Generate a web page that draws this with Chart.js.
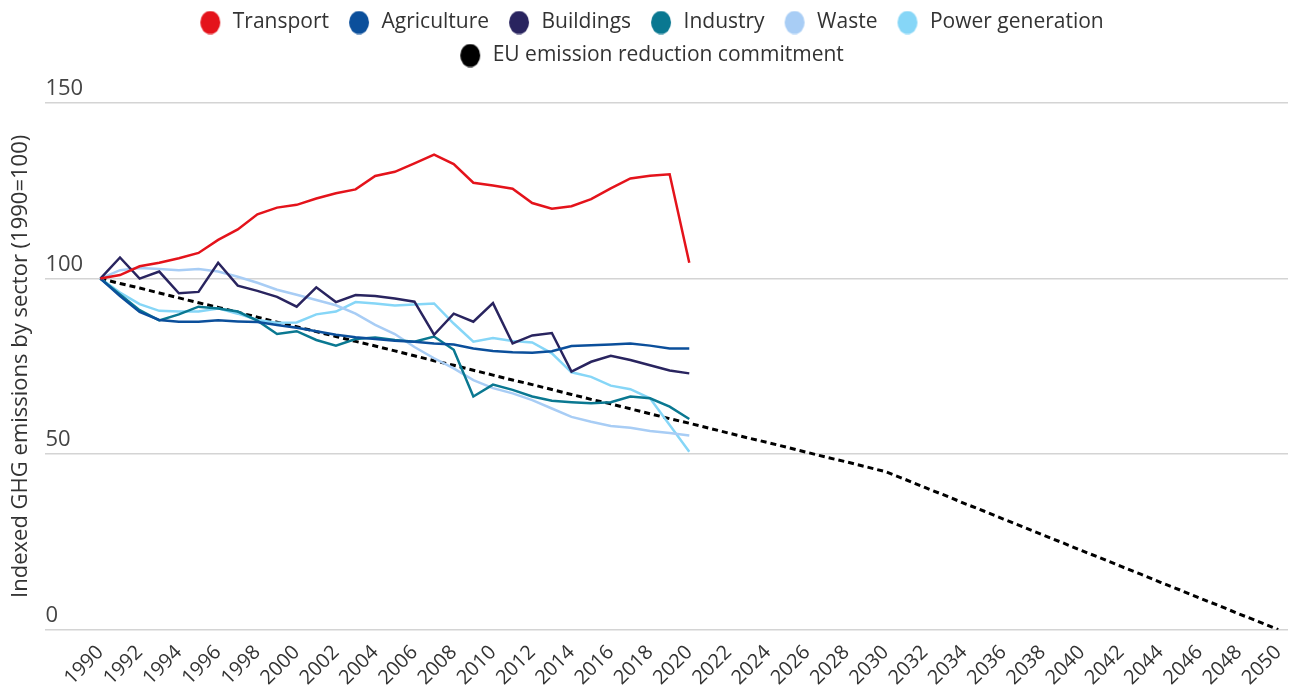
<!DOCTYPE html>
<html>
<head>
<meta charset="utf-8">
<script src="https://cdn.jsdelivr.net/npm/chart.js@4"></script>
<style>
  html, body { margin: 0; padding: 0; background: #fff; }
  #wrap { width: 1304px; height: 693px; }
</style>
</head>
<body>
<div id="wrap"><canvas id="emissions"></canvas></div>
<script>
const sectorYears = [1990, 1991, 1992, 1993, 1994, 1995, 1996, 1997, 1998, 1999, 2000, 2001, 2002, 2003, 2004, 2005, 2006, 2007, 2008, 2009, 2010, 2011, 2012, 2013, 2014, 2015, 2016, 2017, 2018, 2019, 2020]
const targetYears = [1990, 1991, 1992, 1993, 1994, 1995, 1996, 1997, 1998, 1999, 2000, 2001, 2002, 2003, 2004, 2005, 2006, 2007, 2008, 2009, 2010, 2011, 2012, 2013, 2014, 2015, 2016, 2017, 2018, 2019, 2020, 2021, 2022, 2023, 2024, 2025, 2026, 2027, 2028, 2029, 2030, 2031, 2032, 2033, 2034, 2035, 2036, 2037, 2038, 2039, 2040, 2041, 2042, 2043, 2044, 2045, 2046, 2047, 2048, 2049, 2050]
const xTickYears = [1990, 1992, 1994, 1996, 1998, 2000, 2002, 2004, 2006, 2008, 2010, 2012, 2014, 2016, 2018, 2020, 2022, 2024, 2026, 2028, 2030, 2032, 2034, 2036, 2038, 2040, 2042, 2044, 2046, 2048, 2050]

const transport = [100, 101, 103.5, 104.5, 105.8, 107.3, 111, 114, 118.3, 120.2, 121, 122.8, 124.3, 125.4, 129.2, 130.4, 132.8, 135.3, 132.6, 127.3, 126.5, 125.6, 121.5, 119.9, 120.6, 122.6, 125.7, 128.5, 129.3, 129.7, 104.5]
const agriculture = [100, 95, 90.5, 88.2, 87.7, 87.7, 88.1, 87.8, 87.6, 86.8, 86, 85, 84, 83.3, 82.8, 82.3, 82, 81.5, 81.2, 80.1, 79.4, 79, 78.9, 79.3, 80.8, 81, 81.2, 81.5, 80.9, 80.1, 80.1]
const buildings = [100, 106, 100, 102, 95.8, 96.2, 104.5, 98, 96.5, 94.8, 92, 97.5, 93.3, 95.3, 95, 94.3, 93.4, 84, 90, 87.7, 93, 81.5, 83.8, 84.5, 73.5, 76.3, 78, 76.8, 75.3, 73.8, 73]
const industry = [100, 95.5, 91, 88.1, 89.8, 92, 91.5, 90.6, 88, 84.2, 85, 82.5, 80.9, 82.8, 83.2, 82.5, 82, 83.5, 79.7, 66.4, 69.8, 68.3, 66.4, 65.2, 64.8, 64.5, 64.8, 66.4, 65.9, 63.5, 60]
const waste = [100, 102.4, 103, 102.7, 102.4, 102.7, 102, 100.5, 98.8, 96.8, 95.4, 93.9, 92.4, 90, 86.8, 84.2, 80.5, 77.3, 74.4, 71.1, 68.8, 67.3, 65.4, 63, 60.6, 59.2, 58, 57.5, 56.6, 56, 55.3]
const powerGeneration = [100, 96, 92.7, 90.8, 90.6, 90.6, 91.5, 90, 88.2, 87.4, 87.5, 89.8, 90.6, 93.3, 92.9, 92.3, 92.6, 92.9, 87.2, 82, 83.1, 82.2, 81.8, 78.7, 73.3, 72, 69.5, 68.5, 65.9, 58.3, 50.7]
const euCommitment = [100, 98.6, 97.3, 95.9, 94.5, 93.1, 91.8, 90.4, 89, 87.6, 86.3, 84.9, 83.5, 82.1, 80.8, 79.4, 78, 76.6, 75.3, 73.9, 72.5, 71.1, 69.8, 68.4, 67, 65.6, 64.3, 62.9, 61.5, 60.1, 58.8, 57.4, 56, 54.6, 53.3, 51.9, 50.5, 49.1, 47.8, 46.4, 45, 42.8, 40.5, 38.3, 36, 33.8, 31.5, 29.3, 27, 24.8, 22.5, 20.3, 18, 15.8, 13.5, 11.3, 9, 6.8, 4.5, 2.3, 0]

const yTicks = [0, 50, 100, 150]

const FONT = '"Open Sans"'
const TEXT = '#333333'

function toPoints(years, values) {
    return years.map((y, i) => ({ x: y, y: values[i] }))
}

function sector(label, values, color) {
    return {
        label: label,
        data: toPoints(sectorYears, values),
        borderColor: color,
        backgroundColor: color,
        borderWidth: 2.5,
        pointRadius: 0,
        tension: 0
    }
}

// legend dot: drawn a bit right of the box centre so the gaps look like the original
function legendDot(color) {
    const c = document.createElement('canvas')
    c.width = 30
    c.height = 24
    const g = c.getContext('2d')
    g.fillStyle = color
    g.beginPath()
    g.ellipse(18, 12, 10, 11.5, 0, 0, Math.PI * 2)
    g.fill()
    return c
}

// legend wraps after "Power generation" and leaves some room above the plot
const legendLayout = {
    id: 'legendLayout',
    beforeInit(chart) {
        const fit = chart.legend.fit
        chart.legend.fit = function () {
            this.maxWidth = Math.min(this.maxWidth, 1000)
            fit.bind(this)()
            this.height += 27
        }
    }
}

const ctx = document.getElementById('emissions')

new Chart(ctx, {
    type: 'line',
    data: {
        datasets: [
            sector('Transport', transport, '#e4131b'),
            sector('Agriculture', agriculture, '#0b4f9b'),
            sector('Buildings', buildings, '#29245f'),
            sector('Industry', industry, '#0a7891'),
            sector('Waste', waste, '#a8cdf5'),
            sector('Power generation', powerGeneration, '#86d6f7'),
            {
                label: 'EU emission reduction commitment',
                data: toPoints(targetYears, euCommitment),
                borderColor: '#000000',
                backgroundColor: '#000000',
                borderWidth: 3,
                borderDash: [6, 4],
                pointRadius: 0,
                tension: 0
            }
        ]
    },
    options: {
        responsive: true,
        maintainAspectRatio: false,
        animation: false,
        layout: { padding: { left: 8, right: 16, top: 0, bottom: 0 } },
        plugins: {
            legend: {
                position: 'top',
                labels: {
                    usePointStyle: true,
                    pointStyleWidth: 30,
                    boxHeight: 18,
                    padding: 12,
                    color: TEXT,
                    font: { family: FONT, size: 21 },
                    generateLabels(chart) {
                        const items = Chart.defaults.plugins.legend.labels.generateLabels(chart)
                        items.forEach(it => {
                            it.pointStyle = legendDot(it.fillStyle)
                            it.lineWidth = 0
                            it.lineDash = []
                        })
                        return items
                    }
                }
            },
            tooltip: { enabled: false }
        },
        scales: {
            x: {
                type: 'linear',
                min: 1987.2,
                max: 2050.5,
                grid: { display: false },
                border: { display: false },
                afterBuildTicks(scale) {
                    scale.ticks = xTickYears.map(v => ({ value: v }))
                },
                ticks: {
                    autoSkip: false,
                    minRotation: 45,
                    maxRotation: 45,
                    color: TEXT,
                    font: { family: FONT, size: 20 },
                    callback: v => String(v)
                }
            },
            y: {
                min: 0,
                max: 150,
                afterBuildTicks(scale) {
                    scale.ticks = yTicks.map(v => ({ value: v }))
                },
                grid: { color: '#d4d4d4', lineWidth: 1.5, drawTicks: false },
                border: { display: false },
                ticks: {
                    mirror: true,
                    padding: 0,
                    labelOffset: -14,
                    color: '#444444',
                    font: { family: FONT, size: 22 }
                },
                title: {
                    display: true,
                    text: 'Indexed GHG emissions by sector (1990=100)',
                    color: TEXT,
                    font: { family: FONT, size: 22 },
                    padding: { top: 0, bottom: 11 }
                }
            }
        }
    },
    plugins: [legendLayout]
})
</script>
</body>
</html>
